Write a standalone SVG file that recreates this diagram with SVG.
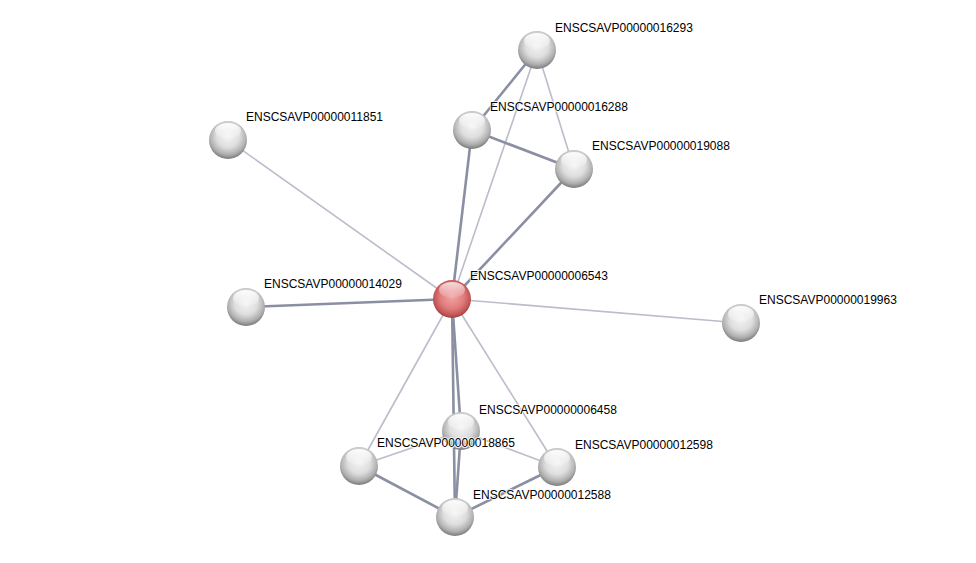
<svg xmlns="http://www.w3.org/2000/svg" width="976" height="563" viewBox="0 0 976 563">
<defs>
<radialGradient id="g" cx="0.5" cy="0.4" r="0.6">
<stop offset="0" stop-color="#f4f4f4"/>
<stop offset="0.5" stop-color="#dedede"/>
<stop offset="0.8" stop-color="#b0b0b0"/>
<stop offset="1" stop-color="#7a7a7a"/>
</radialGradient>
<radialGradient id="r" cx="0.5" cy="0.45" r="0.58">
<stop offset="0" stop-color="#f2a4a4"/>
<stop offset="0.55" stop-color="#e07a7a"/>
<stop offset="0.82" stop-color="#c25555"/>
<stop offset="1" stop-color="#883636"/>
</radialGradient>
<linearGradient id="h" x1="0" y1="0" x2="0" y2="1">
<stop offset="0" stop-color="#fff" stop-opacity="0.95"/>
<stop offset="1" stop-color="#fff" stop-opacity="0.1"/>
</linearGradient>
<symbol id="n" overflow="visible">
<circle cx="0" cy="0" r="19" fill="url(#g)"/>
<ellipse cx="0" cy="-9" rx="13" ry="8" fill="url(#h)"/>
</symbol>
<symbol id="nr" overflow="visible">
<circle cx="0" cy="0" r="19" fill="url(#r)"/>
<ellipse cx="0" cy="-9" rx="13" ry="8" fill="url(#h)" opacity="0.8"/>
</symbol>
</defs>
<style>
.m{stroke:#8a8fa3;stroke-width:2.6;fill:none}
.t{stroke:#bcbccb;stroke-width:1.6;fill:none}
text{font-family:"Liberation Sans",Arial,sans-serif;font-size:12px;fill:#000;paint-order:stroke;stroke:#fff;stroke-width:2px;stroke-opacity:0.8}
</style>
<rect width="976" height="563" fill="#fff"/>
<g id="edges">
<line class="m" x1="537" y1="50" x2="472" y2="130"/>
<line class="t" x1="537" y1="50" x2="574" y2="169"/>
<line class="t" x1="537" y1="50" x2="452" y2="299"/>
<line class="m" x1="472" y1="130" x2="574" y2="169"/>
<line class="m" x1="472" y1="130" x2="452" y2="299"/>
<line class="m" x1="574" y1="169" x2="452" y2="299"/>
<line class="t" x1="228" y1="140" x2="452" y2="299"/>
<line class="m" x1="246" y1="307" x2="452" y2="299"/>
<line class="t" x1="741" y1="323" x2="452" y2="299"/>
<line class="m" x1="452" y1="299" x2="461" y2="431"/>
<line class="m" x1="452" y1="299" x2="455" y2="517"/>
<line class="t" x1="452" y1="299" x2="359" y2="466"/>
<line class="t" x1="452" y1="299" x2="557" y2="467"/>
<line class="t" x1="359" y1="466" x2="461" y2="431"/>
<line class="t" x1="461" y1="431" x2="557" y2="467"/>
<line class="m" x1="359" y1="466" x2="455" y2="517"/>
<line class="m" x1="557" y1="467" x2="455" y2="517"/>
<line class="m" x1="461" y1="431" x2="455" y2="517"/>
</g>
<g id="n16293"><use href="#n" x="537" y="50"/><text x="555" y="32">ENSCSAVP00000016293</text></g>
<g id="n16288"><use href="#n" x="472" y="130"/><text x="490" y="111">ENSCSAVP00000016288</text></g>
<g id="n19088"><use href="#n" x="574" y="169"/><text x="592" y="150">ENSCSAVP00000019088</text></g>
<g id="n11851"><use href="#n" x="228" y="140"/><text x="246" y="121">ENSCSAVP00000011851</text></g>
<g id="n14029"><use href="#n" x="246" y="307"/><text x="264" y="288">ENSCSAVP00000014029</text></g>
<g id="n19963"><use href="#n" x="741" y="323"/><text x="759" y="304">ENSCSAVP00000019963</text></g>
<g id="n6458"><use href="#n" x="461" y="431"/><text x="479" y="414">ENSCSAVP00000006458</text></g>
<g id="n18865"><use href="#n" x="359" y="466"/><text x="377" y="447">ENSCSAVP00000018865</text></g>
<g id="n12598"><use href="#n" x="557" y="467"/><text x="575" y="449">ENSCSAVP00000012598</text></g>
<g id="n12588"><use href="#n" x="455" y="517"/><text x="473" y="499">ENSCSAVP00000012588</text></g>
<g id="n6543"><use href="#nr" x="452" y="299"/><text x="470" y="280">ENSCSAVP00000006543</text></g>
</svg>
